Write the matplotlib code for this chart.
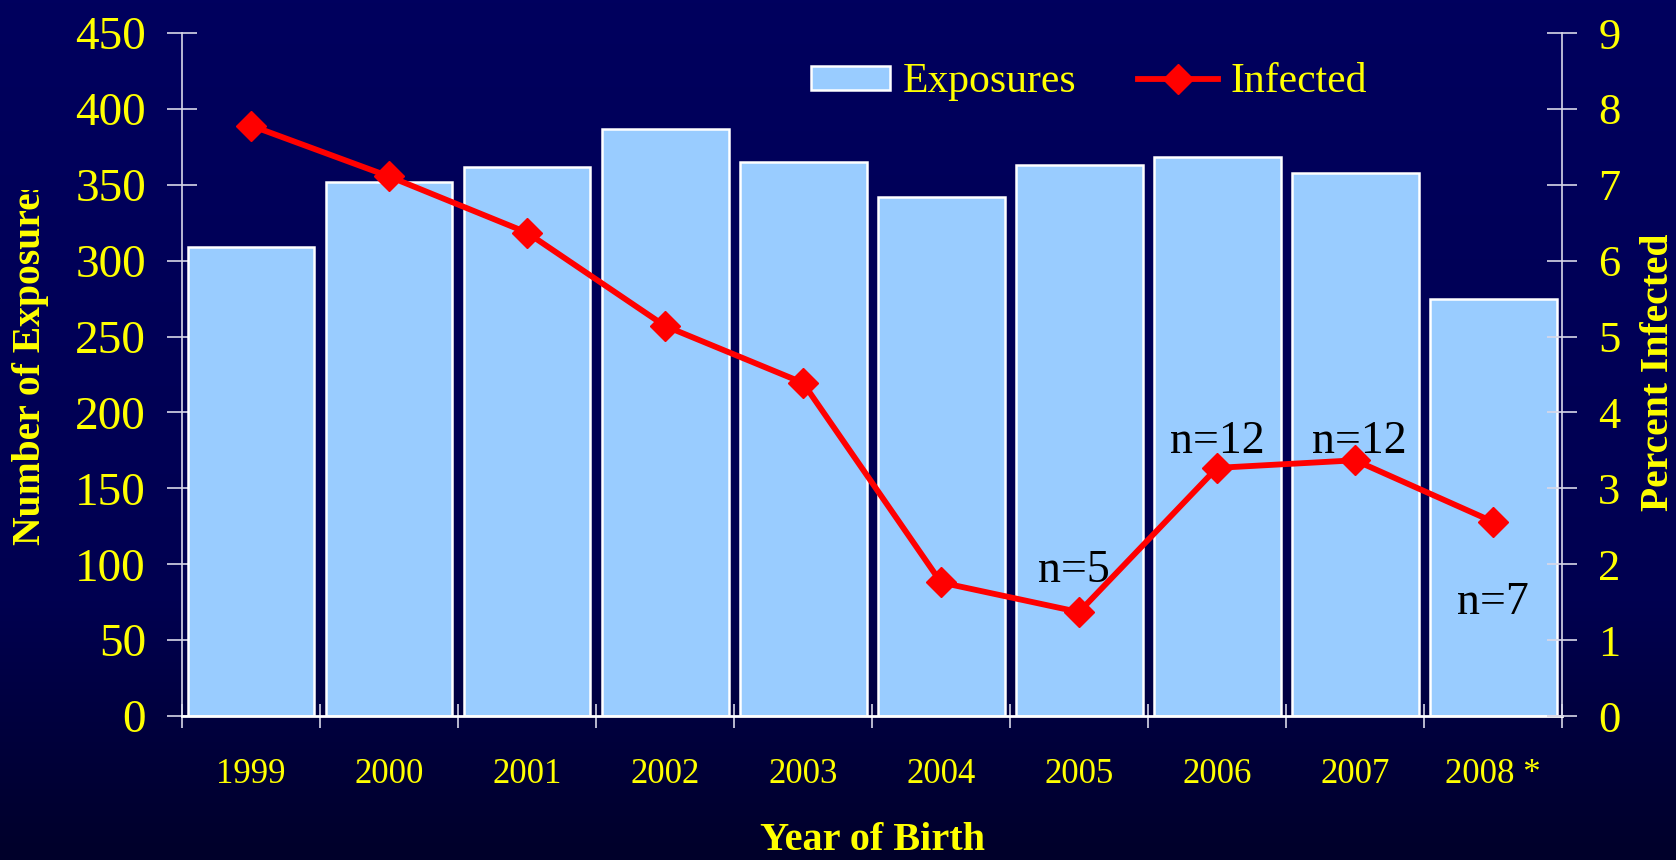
import numpy as np
import matplotlib
matplotlib.use("Agg")
import matplotlib.pyplot as plt
from matplotlib.colors import LinearSegmentedColormap
from matplotlib.transforms import Bbox, TransformedBbox

years = ["1999", "2000", "2001", "2002", "2003", "2004", "2005", "2006", "2007", "2008 *"]
exposures = [309, 352, 362, 387, 365, 342, 363, 368, 358, 275]
infected = [7.78, 7.11, 6.37, 5.14, 4.39, 1.76, 1.37, 3.27, 3.37, 2.56]
notes = ["n=5", "n=12", "n=12", "n=7"]
note_x = [5.96, 7.0, 8.03, 9.0]
note_y = [1.77, 3.47, 3.47, 1.34]

plt.rcParams["font.family"] = ["Liberation Serif", "DejaVu Serif"]
yellow = "#FFFF00"
tick_col = "#D8D8E8"

fig = plt.figure(figsize=(16.76, 8.6), dpi=100)

# background gradient
bg = fig.add_axes([0, 0, 1, 1], zorder=-10)
cmap = LinearSegmentedColormap.from_list("bg", [(0.0, "#00005E"), (0.7, "#000050"), (1.0, "#00002A")])
bg.imshow(np.linspace(0, 1, 256).reshape(-1, 1), cmap=cmap, aspect="auto", extent=[0, 1, 0, 1])
bg.axis("off")

ax = fig.add_axes([0.1086, 0.1674, 0.8234, 0.7942])
ax.set_facecolor("none")
x = np.arange(len(years))
bars = ax.bar(x, exposures, width=0.92, color="#99CCFF", edgecolor="white", linewidth=1.8,
              label="Exposures", zorder=2)
ax.set_xlim(-0.5, 9.5)
ax.set_ylim(0, 450)
ax.set_yticks(np.arange(0, 451, 50))
ax.tick_params(axis="y", direction="inout", length=22, width=1.2, color=tick_col,
               labelsize=34, labelcolor=yellow, pad=15)
ax.set_xticks(np.arange(-0.5, 10, 1))
ax.set_xticklabels([])
ax.set_xticks(x, minor=True)
ax.set_xticklabels(years, minor=True)
ax.tick_params(axis="x", which="major", direction="inout", length=17, width=1.2, color=tick_col)
ax.tick_params(axis="x", which="minor", length=0, labelsize=25, labelcolor=yellow, pad=30)
for s in ["top", "right"]:
    ax.spines[s].set_visible(False)
ax.spines["left"].set_color(tick_col)
ax.spines["left"].set_linewidth(1.2)
ax.spines["bottom"].set_color("white")
ax.spines["bottom"].set_linewidth(2)

ax2 = ax.twinx()
line, = ax2.plot(x, infected, color="#FF0000", linewidth=4.2, marker="D", markersize=15,
                 label="Infected", zorder=3)
ax2.set_ylim(0, 9)
ax2.set_yticks(np.arange(0, 10, 1))
ax2.tick_params(axis="y", direction="inout", length=22, width=1.2, color=tick_col,
                labelsize=32, labelcolor=yellow, pad=15)
for s in ["top", "left", "bottom"]:
    ax2.spines[s].set_visible(False)
ax2.spines["right"].set_color(tick_col)
ax2.spines["right"].set_linewidth(1.2)

for t, nx, ny in zip(notes, note_x, note_y):
    ax2.text(nx, ny, t, ha="center", va="baseline", fontsize=33, color="black", zorder=4)

leg = ax2.legend([bars, line], ["Exposures", "Infected"], loc="center", bbox_to_anchor=(0.657, 0.928),
                 ncol=2, frameon=False, fontsize=30, handlelength=1.9, handleheight=0.5,
                 numpoints=1, columnspacing=1.5, handletextpad=0.3)
for t in leg.get_texts():
    t.set_color(yellow)

# axis titles
yl = fig.text(31 / 1676, 1 - 545 / 860, "Number of Exposures", rotation=90, ha="center", va="bottom",
              fontsize=28.5, fontweight="bold", color=yellow)
yl.set_clip_box(TransformedBbox(Bbox([[0, 0], [1, 1 - 190 / 860]]), fig.transFigure))
yl.set_clip_on(True)
fig.text(1658 / 1676, 1 - 372 / 860, "Percent Infected", rotation=90, ha="center", va="center",
         fontsize=28.5, fontweight="bold", color=yellow)
fig.text(872 / 1676, 10 / 860, "Year of Birth", ha="center", va="baseline",
         fontsize=29, fontweight="bold", color=yellow)

fig.savefig("out.png", dpi=100)
